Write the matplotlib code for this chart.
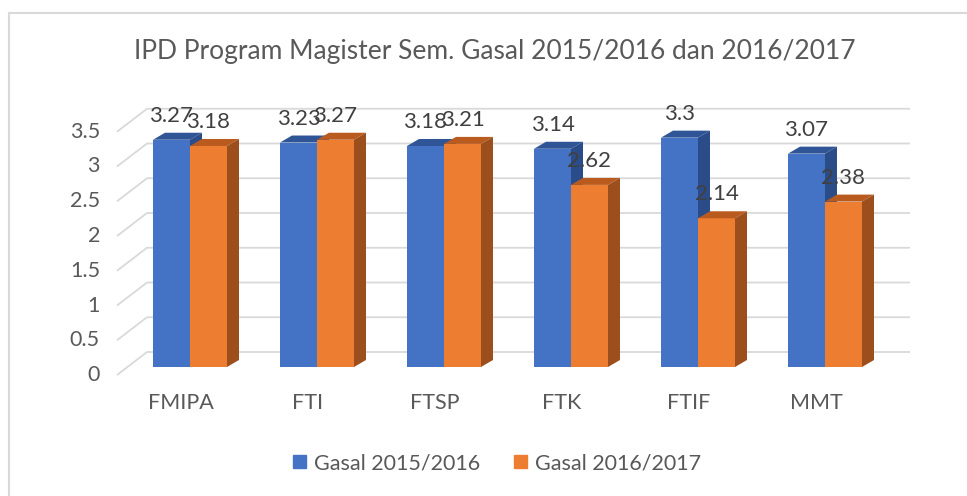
import matplotlib.pyplot as plt
from matplotlib.patches import Polygon, Patch
from matplotlib.lines import Line2D

categories = ['FMIPA', 'FTI', 'FTSP', 'FTK', 'FTIF', 'MMT']
gasal_2015 = [3.27, 3.23, 3.18, 3.14, 3.30, 3.07]
gasal_2016 = [3.18, 3.27, 3.21, 2.62, 2.14, 2.38]
series_names = ['Gasal 2015/2016', 'Gasal 2016/2017']
yticks = [0, 0.5, 1, 1.5, 2, 2.5, 3, 3.5]
title = 'IPD Program Magister Sem. Gasal 2015/2016 dan 2016/2017'

plt.rcParams['font.family'] = ['Lato', 'DejaVu Sans']
TXT = '#595959'

# colours: front, top, side
blue = ('#4472C4', '#2F5597', '#2A4C89')
orange = ('#ED7D31', '#B95B1F', '#9C4E1C')

W, H = 967, 496
PX_X = 127.0   # pixels per category step
PX_Y = 69.5    # pixels per value unit
X0 = 190       # pixel x of first category centre
Y0 = 367       # pixel y of value 0 on the bars' front face


def px(d):
    return d / PX_X


def py(d):
    return d / PX_Y


fig = plt.figure(figsize=(W / 100, H / 100), dpi=100)
ax = fig.add_axes([0, 0, 1, 1])
ax.set_xlim(-X0 / PX_X, (W - X0) / PX_X)
ax.set_ylim((Y0 - H) / PX_Y, Y0 / PX_Y)
ax.axis('off')

# back wall + floor-side gridlines
for v in yticks:
    xs = [px(117 - X0), px(147 - X0), px(910 - X0)]
    ys = [v - py(8), v + py(15), v + py(15)]
    ax.plot(xs, ys, color='#D9D9D9', lw=1.3, zorder=1, solid_capstyle='butt')
    ax.text(px(100 - X0), v - py(8), f'{v:g}', ha='right', va='center',
            fontsize=15.5, color=TXT)

bw = px(37)
dx, dy = px(12), py(7)


def bar3d(left, v, cols, z):
    ax.bar(left, v, bw, align='edge', color=cols[0], zorder=z)
    top = [(left, v), (left + bw, v), (left + bw + dx, v + dy), (left + dx, v + dy)]
    side = [(left + bw, 0), (left + bw + dx, dy), (left + bw + dx, v + dy), (left + bw, v)]
    ax.add_patch(Polygon(top, closed=True, color=cols[1], lw=0, zorder=z))
    ax.add_patch(Polygon(side, closed=True, color=cols[2], lw=0, zorder=z))
    ax.text(left + bw / 2, v + py(24), f'{v:g}', ha='center', va='center',
            fontsize=16, color='#404040', zorder=6)


for i, cat in enumerate(categories):
    bar3d(i - bw, gasal_2015[i], blue, 3)
    bar3d(i, gasal_2016[i], orange, 4)
    ax.text(i - px(9), py(Y0 - 403), cat, ha='center', va='center',
            fontsize=15.5, color=TXT)

fig.text(495 / W, 1 - 52 / H, title, ha='center', va='center',
         fontsize=19, color=TXT)

handles = [Patch(color=blue[0]), Patch(color=orange[0])]
fig.legend(handles, series_names, loc='center', bbox_to_anchor=(497 / W, 1 - 463 / H),
           ncol=2, frameon=False, fontsize=15.5, labelcolor=TXT,
           handlelength=0.6, handleheight=0.6, handletextpad=0.4, columnspacing=1.55)

# chart frame (left and top edges visible)
fig.add_artist(Line2D([9 / W, 9 / W], [0, 1 - 12.5 / H], transform=fig.transFigure,
                      color='#D9D9D9', lw=1.5))
fig.add_artist(Line2D([9 / W, 1], [1 - 12.5 / H, 1 - 12.5 / H], transform=fig.transFigure,
                      color='#D9D9D9', lw=1.5))

fig.savefig('out.png', dpi=100, facecolor='white')
